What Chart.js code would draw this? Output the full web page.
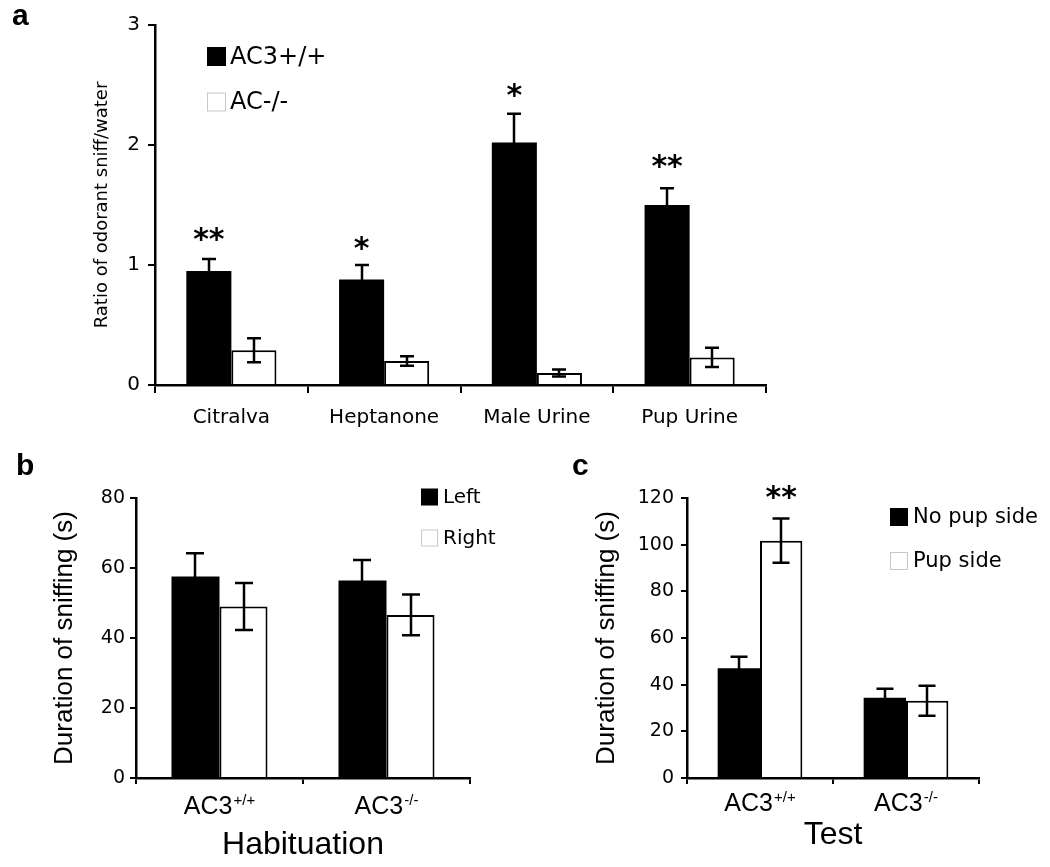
<!DOCTYPE html>
<html>
<head>
<meta charset="utf-8">
<title>AC3 sniffing</title>
<script src="https://cdn.jsdelivr.net/npm/chart.js@4.4.1/dist/chart.umd.min.js"></script>
<style>
body { margin: 0; background: #fff; }
#figure { position: relative; width: 1050px; height: 867px; overflow: hidden; }
canvas { position: absolute; }
.panel { position: absolute; font: bold 30px 'Liberation Sans', sans-serif; line-height: 30px; color: #000; }
</style>
</head>
<body>
<div id="figure">
    <canvas id="chartA" width="800" height="440" style="left:0;top:0"></canvas>
    <canvas id="chartB" width="540" height="427" style="left:0;top:440px"></canvas>
    <canvas id="chartC" width="510" height="427" style="left:540px;top:440px"></canvas>
    <div class="panel" style="left:12px;top:0px">a</div>
    <div class="panel" style="left:16px;top:450px">b</div>
    <div class="panel" style="left:572px;top:450px">c</div>
</div>
<script>
// panel a: odorant sniff ratio
var odorants = ['Citralva', 'Heptanone', 'Male Urine', 'Pup Urine'];
var ratioWildType = [0.95, 0.88, 2.02, 1.50];
var ratioWildTypeErr = [0.10, 0.12, 0.24, 0.14];
var ratioKnockout = [0.29, 0.20, 0.10, 0.23];
var ratioKnockoutErr = [0.10, 0.04, 0.03, 0.08];
var starsA = ['**', '*', '*', '**'];
var starsAAt = [1.23, 1.16, 2.43, 1.84];
var ticksA = [0, 1, 2, 3];

// panel b: habituation
var genotypes = ['AC3', 'AC3'];
var genotypeSups = ['+/+', '-/-'];
var habLeft = [57.6, 56.4];
var habLeftErr = [6.6, 5.9];
var habRight = [49.0, 46.6];
var habRightErr = [6.7, 5.8];
var ticksB = [0, 20, 40, 60, 80];

// panel c: test
var testNoPup = [47.0, 34.4];
var testNoPupErr = [5.0, 3.8];
var testPup = [101.7, 33.1];
var testPupErr = [9.5, 6.4];
var starsC = ['**', ''];
var starsCAt = [121.3, 0];
var ticksC = [0, 20, 40, 60, 80, 100, 120];

Chart.defaults.font.family = "'DejaVu Sans', sans-serif";
Chart.defaults.color = '#000';

var barExtras = {
    id: 'barExtras',
    afterDatasetsDraw: function(chart, args, opts) {
        var ctx = chart.ctx;
        var yScale = chart.scales.y;
        var xScale = chart.scales.x;
        ctx.save();

        // error bars
        ctx.strokeStyle = '#000';
        ctx.lineWidth = 2.5;
        var cap = opts.capWidth / 2;
        chart.data.datasets.forEach(function(ds, di) {
            var meta = chart.getDatasetMeta(di);
            meta.data.forEach(function(bar, i) {
                var v = ds.data[i];
                var e = ds.errors[i];
                var x = Math.round(bar.x);
                var yTop = yScale.getPixelForValue(v + e);
                var yBot = yScale.getPixelForValue(v - e);
                ctx.beginPath();
                ctx.moveTo(x, yTop);
                ctx.lineTo(x, yBot);
                ctx.moveTo(x - cap, yTop);
                ctx.lineTo(x + cap, yTop);
                ctx.moveTo(x - cap, yBot);
                ctx.lineTo(x + cap, yBot);
                ctx.stroke();
            });
        });

        // significance stars
        if (opts.stars) {
            var fs = opts.stars.size;
            ctx.font = "bold " + fs + "px 'DejaVu Sans', sans-serif";
            ctx.fillStyle = '#000';
            ctx.textAlign = 'center';
            ctx.textBaseline = 'alphabetic';
            var starMeta = chart.getDatasetMeta(opts.stars.dataset);
            opts.stars.text.forEach(function(t, i) {
                if (!t) return;
                var y = yScale.getPixelForValue(opts.stars.at[i]);
                ctx.fillText(t, starMeta.data[i].x, y + fs * 0.4);
            });
        }

        // category labels with superscripts
        if (opts.catLabels) {
            var cl = opts.catLabels;
            ctx.fillStyle = '#000';
            ctx.textBaseline = 'alphabetic';
            ctx.textAlign = 'left';
            chart.data.labels.forEach(function(lbl, i) {
                ctx.font = cl.size + "px 'Liberation Sans', sans-serif";
                var w1 = ctx.measureText(lbl).width;
                ctx.font = cl.supSize + "px 'Liberation Sans', sans-serif";
                var w2 = ctx.measureText(cl.sups[i]).width;
                var cx = xScale.getPixelForValue(i);
                var x0 = cx - (w1 + 1 + w2) / 2;
                ctx.font = cl.size + "px 'Liberation Sans', sans-serif";
                ctx.fillText(lbl, x0, cl.baseline);
                ctx.font = cl.supSize + "px 'Liberation Sans', sans-serif";
                ctx.fillText(cl.sups[i], x0 + w1 + 1, cl.baseline - cl.supRaise);
            });
        }

        // legend
        if (opts.legend) {
            var lg = opts.legend;
            ctx.font = lg.size + "px 'DejaVu Sans', sans-serif";
            ctx.textAlign = 'left';
            ctx.textBaseline = 'middle';
            chart.data.datasets.forEach(function(ds, di) {
                var cy = lg.y[di];
                var s = lg.box;
                if (ds.backgroundColor == '#000') {
                    ctx.fillStyle = '#000';
                    ctx.fillRect(lg.x, cy - s / 2, s, s);
                } else {
                    ctx.fillStyle = '#fff';
                    ctx.fillRect(lg.x, cy - s / 2, s, s);
                    ctx.strokeStyle = '#c8c8c8';
                    ctx.lineWidth = 1;
                    ctx.strokeRect(lg.x + 0.5, cy - s / 2 + 0.5, s - 1, s - 1);
                }
                ctx.fillStyle = '#000';
                ctx.fillText(ds.label, lg.x + s + lg.gap, cy + 1);
            });
        }
        ctx.restore();
    }
};

function fixedTicks(values) {
    return function(scale) {
        scale.ticks = values.map(function(v) { return { value: v }; });
    };
}

function makeBarChart(id, cfg) {
    var ctx = document.getElementById(id).getContext('2d');
    return new Chart(ctx, {
        type: 'bar',
        data: {
            labels: cfg.labels,
            datasets: [
                {
                    label: cfg.names[0],
                    data: cfg.black,
                    errors: cfg.blackErr,
                    backgroundColor: '#000',
                    borderColor: '#000',
                    borderWidth: 0,
                    categoryPercentage: cfg.catPct,
                    barPercentage: 1.0
                },
                {
                    label: cfg.names[1],
                    data: cfg.white,
                    errors: cfg.whiteErr,
                    backgroundColor: '#fff',
                    borderColor: '#000',
                    borderWidth: 2,
                    categoryPercentage: cfg.catPct,
                    barPercentage: 1.0
                }
            ]
        },
        options: {
            responsive: false,
            animation: false,
            layout: { padding: cfg.padding },
            scales: {
                x: {
                    grid: { display: true, drawOnChartArea: false, drawTicks: true, tickLength: cfg.xTickLen, color: '#000', lineWidth: 2, offset: true },
                    border: { display: true, color: '#000', width: 2.5 },
                    ticks: {
                        display: cfg.showXTicks,
                        font: { size: 20 },
                        padding: 13,
                        maxRotation: 0,
                        autoSkip: false
                    },
                    title: cfg.xTitle,
                    afterFit: function(scale) { scale.height = cfg.xHeight; }
                },
                y: {
                    min: 0,
                    max: cfg.yMax,
                    afterBuildTicks: fixedTicks(cfg.yTicks),
                    grid: { display: true, drawOnChartArea: false, drawTicks: true, tickLength: cfg.yTickLen, color: '#000', lineWidth: 2 },
                    border: { display: true, color: '#000', width: 2.5 },
                    ticks: { font: { size: cfg.yTickSize }, padding: cfg.yTickPad },
                    title: cfg.yTitle,
                    afterFit: function(scale) { scale.width = cfg.yWidth; }
                }
            },
            plugins: {
                legend: { display: false },
                tooltip: { enabled: false },
                barExtras: cfg.extras
            }
        },
        plugins: [barExtras]
    });
}

makeBarChart('chartA', {
    labels: odorants,
    names: ['AC3+/+', 'AC-/-'],
    black: ratioWildType,
    blackErr: ratioWildTypeErr,
    white: ratioKnockout,
    whiteErr: ratioKnockoutErr,
    catPct: 0.59,
    padding: { top: 25, right: 34, left: 0, bottom: 0 },
    xTickLen: 8,
    xHeight: 55,
    showXTicks: true,
    xTitle: { display: false },
    yMax: 3,
    yTicks: ticksA,
    yTickLen: 7,
    yTickSize: 20,
    yTickPad: 8,
    yWidth: 155,
    yTitle: { display: true, text: 'Ratio of odorant sniff/water', font: { size: 18 }, padding: { top: 92 } },
    extras: {
        capWidth: 14,
        stars: { text: starsA, at: starsAAt, dataset: 0, size: 30 },
        legend: { x: 207, y: [56.5, 102], box: 19, gap: 4, size: 24 }
    }
});

makeBarChart('chartB', {
    labels: genotypes,
    names: ['Left', 'Right'],
    black: habLeft,
    blackErr: habLeftErr,
    white: habRight,
    whiteErr: habRightErr,
    catPct: 0.575,
    padding: { top: 58, right: 70, left: 0, bottom: 0 },
    xTickLen: 6,
    xHeight: 89,
    showXTicks: false,
    xTitle: { display: true, text: 'Habituation', font: { size: 32, family: "'Liberation Sans', sans-serif" }, padding: { bottom: 3 } },
    yMax: 80,
    yTicks: ticksB,
    yTickLen: 6,
    yTickSize: 19,
    yTickPad: 5,
    yWidth: 136,
    yTitle: { display: true, text: 'Duration of sniffing (s)', font: { size: 26, family: "'Liberation Sans', sans-serif" }, padding: { top: 49 } },
    extras: {
        capWidth: 18,
        catLabels: { sups: genotypeSups, size: 25, supSize: 15, baseline: 374, supRaise: 9 },
        legend: { x: 421, y: [57, 98], box: 17, gap: 5, size: 20 }
    }
});

makeBarChart('chartC', {
    labels: genotypes,
    names: ['No pup side', 'Pup side'],
    black: testNoPup,
    blackErr: testNoPupErr,
    white: testPup,
    whiteErr: testPupErr,
    catPct: 0.58,
    padding: { top: 58, right: 71, left: 0, bottom: 0 },
    xTickLen: 6,
    xHeight: 89,
    showXTicks: false,
    xTitle: { display: true, text: 'Test', font: { size: 32, family: "'Liberation Sans', sans-serif" }, padding: { bottom: 13 } },
    yMax: 120,
    yTicks: ticksC,
    yTickLen: 6,
    yTickSize: 19,
    yTickPad: 7,
    yWidth: 147,
    yTitle: { display: true, text: 'Duration of sniffing (s)', font: { size: 26, family: "'Liberation Sans', sans-serif" }, padding: { top: 51 } },
    extras: {
        capWidth: 17,
        stars: { text: starsC, at: starsCAt, dataset: 1, size: 30 },
        catLabels: { sups: genotypeSups, size: 25, supSize: 15, baseline: 371, supRaise: 9 },
        legend: { x: 350, y: [77, 121], box: 18, gap: 5, size: 21 }
    }
});
</script>
</body>
</html>
